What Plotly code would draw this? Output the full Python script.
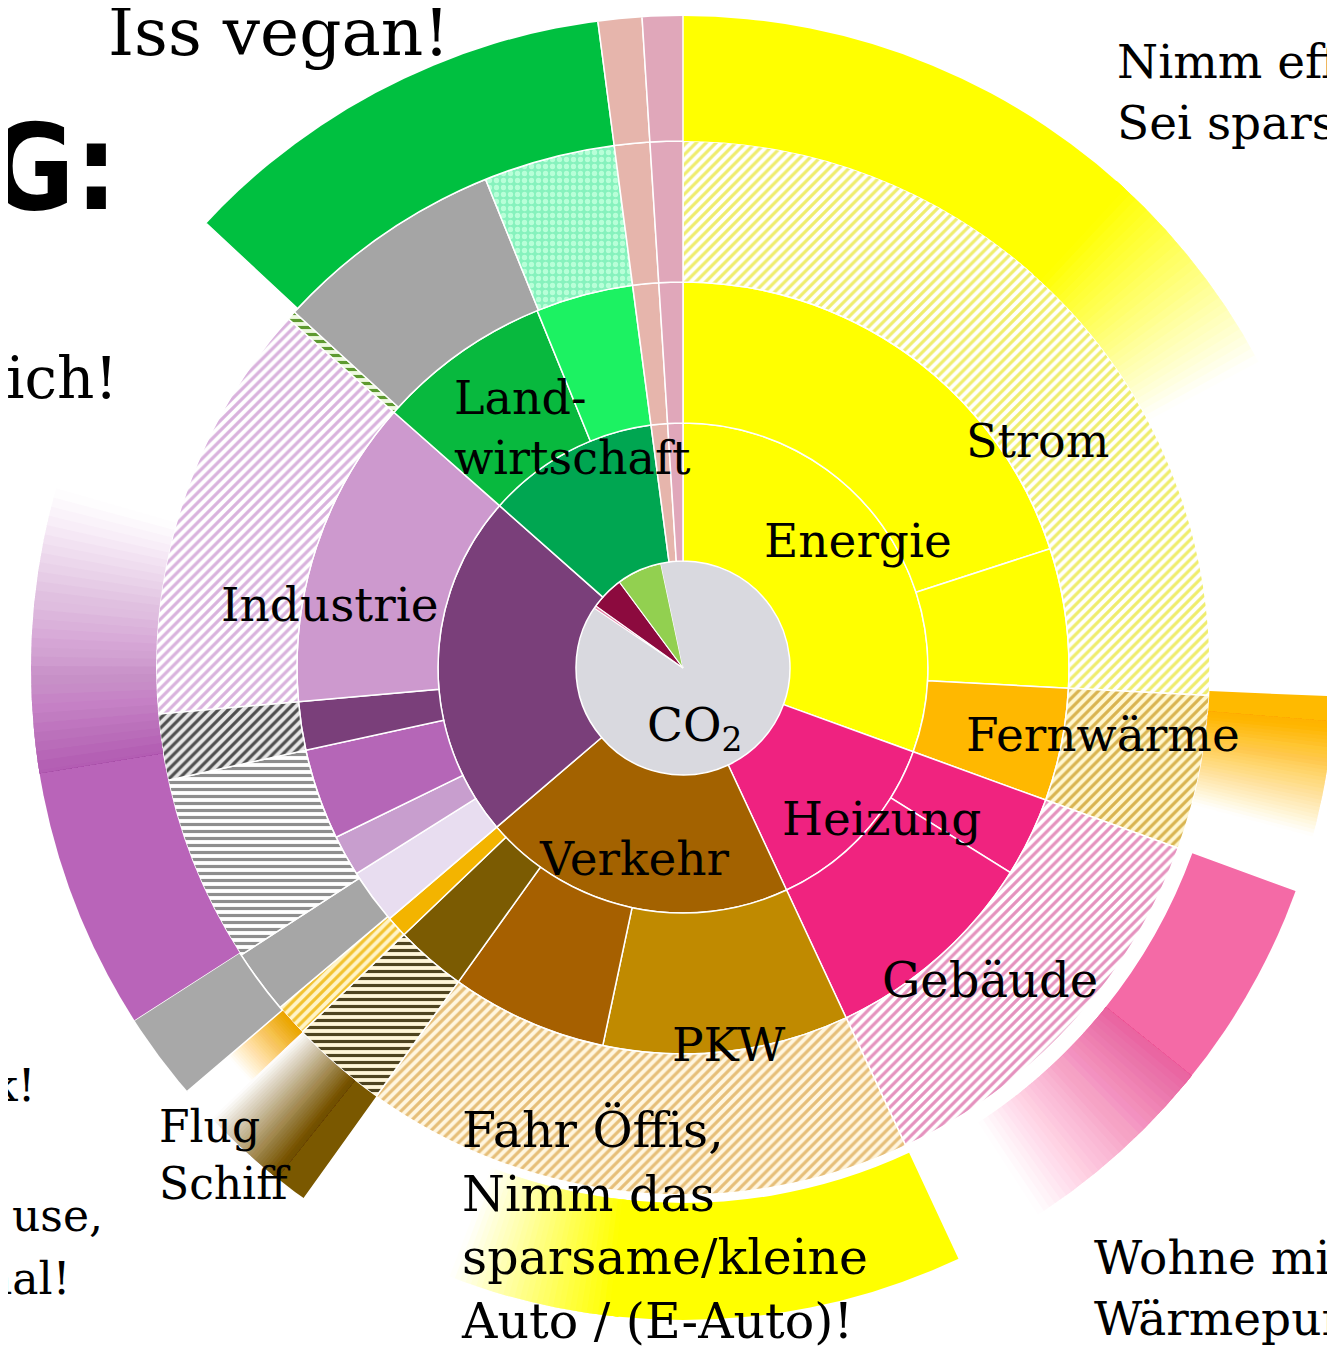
import plotly.graph_objects as go

# ---------------- data: angular share of every segment (degrees, clockwise from 12 o'clock) ----------------
gas_names = ["CO₂", "F-Gase", "Methan", "Lachgas", "CO₂"]
gas_span = [304.0, 1.5, 18.0, 24.5, 12.0]

sector_names = ["Energie", "Heizung", "Verkehr", "Industrie", "Landwirtschaft", "Abfall", "Sonstige"]
sector_span = [110, 45, 74.5, 82, 41, 3.9, 3.6]

source_names = ["Strom", "Strom Rest", "Fernwärme", "Heizung Gas", "Heizung Öl", "PKW", "Bus/Bahn/LKW",
                "Schiff", "Flug", "Industrie a", "Industrie b", "Industrie c", "Industrie d", "Industrie e",
                "Tierhaltung", "Boden", "Abfall", "Sonstige"]
source_span = [72, 21, 17, 12, 33, 37, 23.6, 10.7, 3.2, 8.3, 6.2, 13.7, 7.3, 46.5, 26.3, 14.7, 3.9, 3.6]

use_names = ["Strom", "Fernwärme", "Gebäude", "PKW", "Schiff", "Flug", "Industrie grau", "Industrie b",
             "Industrie d", "Industrie e", "Landwirtschaft Rand", "Futter", "Dünger", "Abfall", "Sonstige"]
use_span = [93, 17, 45, 60.6, 10.7, 3.6, 7.1, 20.7, 7.3, 46.5, 1.0, 25.5, 14.5, 3.9, 3.6]

tip_names = ["Strom", "", "Fernwärme", "", "Gebäude", "", "PKW", "", "Schiff", "Flug",
             "Industrie grau", "Konsum", "", "Ernährung", "Abfall", "Sonstige"]
tip_span = [62, 30.5, 12.5, 5, 37, 8, 46, 14.6, 10.7, 3.2, 7.8, 48.7, 27, 39.5, 3.9, 3.6]

# ---------------- styles ----------------
R0, R1, R2, R3, R4 = 107, 245, 386, 527, 670
W, H, OFF = 1327, 1338, 8
RADIUS = 652

gas_colors = ["#D9D9DF", "#E48AAE", "#8C0A3E", "#92D050", "#D9D9DF"]
sector_colors = ["#FFFF00", "#EF2280", "#A36200", "#7A3F7A", "#00A651", "#E6B5AC", "#E0A7BA"]
source_colors = ["#FFFF00", "#FFFF00", "#FFB800", "#F0237F", "#F0237F", "#C08A00", "#A66000",
                 "#7B5B02", "#F3B400", "#E8DDF0", "#C89ECE", "#B566B7", "#7A3F7A", "#CD99CE",
                 "#08B93E", "#1CF262", "#E6B5AC", "#E0A7BA"]
use_style = [
    ("#FFFFFF", "#EFED6E", "/"),
    ("#FFF7D0", "#D9B450", "/"),
    ("#FFFFFF", "#E592BE", "/"),
    ("#FFF6E0", "#E6BE78", "/"),
    ("#FFF6D8", "#4E4420", "-"),
    ("#FFF4C8", "#F2C230", "/"),
    ("#A6A6A6", None, ""),
    ("#FFFFFF", "#8E8E8E", "-"),
    ("#E6E6E6", "#4E4E4E", "/"),
    ("#FFFFFF", "#D9B2DD", "/"),
    ("#EEF9E0", "#5E9A30", "-"),
    ("#A5A5A5", None, ""),
    ("#86F2BD", "#B8FFD8", "."),
    ("#E6B5AC", None, ""),
    ("#E0A7BA", None, ""),
]
tip_colors = ["#FFFF00", None, "#FFBA00", None, "#F46AA6", None, "#FFFF00", None, "#7A5800", "#F5A800",
              "#A8A8A8", "#B964B9", None, "#00C040", "#E6B5AC", "#E0A7BA"]
tip_fade = [20, 0, 10, 0, 18, 0, 15, 0, 7.5, 0, 0, 25, 0, 0, 0, 0]
tip_inset = [0, 0, 0, 0, 15, 0, 8, 0, 0, 0, 0, 0, 0, 0, 0, 0]

fig = go.Figure()


def rgba(hexcol, a):
    h = hexcol.lstrip("#")
    return "rgba(%d,%d,%d,%.4f)" % (int(h[0:2], 16), int(h[2:4], 16), int(h[4:6], 16), a)


def seg(start, span, r0, r1, color=None, pattern=None, line=1.5, name=""):
    marker = dict(color=color if color else "rgba(0,0,0,0)",
                  line=dict(color="white", width=line))
    if pattern:
        marker["pattern"] = pattern
    fig.add_trace(go.Barpolar(theta=[start + span / 2], width=[span], base=[r0], r=[r1 - r0],
                              marker=marker, name=name, hoverinfo="skip", showlegend=False))


def starts(spans):
    out, acc = [], 0
    for s in spans:
        out.append(acc)
        acc += s
    return out


# nested translucent layers -> smooth fade without seams
STEPS = 30
fade_alpha = [1 / (j + 0.5) for j in range(1, STEPS)] + [0.5 / STEPS]

# center disc
for a, s, c, n in zip(starts(gas_span), gas_span, gas_colors, gas_names):
    seg(a, s, 0, R0, c, line=1.2 if c != "#D9D9DF" else 0, name=n)

# sectors
for a, s, c, n in zip(starts(sector_span), sector_span, sector_colors, sector_names):
    seg(a, s, R0, R1, c, name=n)

# sources
for a, s, c, n in zip(starts(source_span), source_span, source_colors, source_names):
    seg(a, s, R1, R2, c, name=n)

# uses (hatched)
for a, s, st, n in zip(starts(use_span), use_span, use_style, use_names):
    bg, fg, shape = st
    if shape:
        seg(a, s, R2, R3, bg, pattern=dict(shape=shape, fgcolor=fg, bgcolor=bg, size=7,
                                            solidity=0.45, fillmode="replace"), name=n)
    else:
        seg(a, s, R2, R3, bg, name=n)

# outer ring: tips, some fading out clockwise
for a, s, c, fd, ins, n in zip(starts(tip_span), tip_span, tip_colors, tip_fade, tip_inset, tip_names):
    if c is None:
        continue
    r0 = R3 + ins
    if n == "Flug":
        fr = (R4 - r0) * 0.5
        for j, al in enumerate(fade_alpha, start=1):
            seg(a, s, r0, r0 + fr * j / STEPS, rgba(c, al), line=0, name=n)
        continue
    solid = s - fd
    seg(a, solid, r0, R4, c, line=0 if fd else 1.5, name=n)
    if fd:
        b = a + solid - 0.3
        for j, al in enumerate(fade_alpha, start=1):
            seg(b, 0.3 + fd * j / STEPS, r0, R4, rgba(c, al), line=0, name=n)

cx, cy = 683 - OFF, 668 - OFF
fig.update_layout(
    width=W, height=H, margin=dict(l=0, r=0, t=0, b=0),
    paper_bgcolor="white", plot_bgcolor="white",
    polar=dict(
        domain=dict(x=[(cx - RADIUS) / W, (cx + RADIUS) / W],
                    y=[(H - cy - RADIUS) / H, (H - cy + RADIUS) / H]),
        bgcolor="rgba(0,0,0,0)",
        barmode="overlay",
        radialaxis=dict(visible=False, range=[0, RADIUS]),
        angularaxis=dict(visible=False, rotation=90, direction="clockwise"),
    ),
)


def label(text, px, py, size=47, anchor="left", family="DejaVu Serif", weight="normal"):
    fig.add_annotation(text=text, xref="paper", yref="paper",
                       x=(px - OFF) / W, y=1 - (py - OFF) / H,
                       xanchor=anchor, yanchor="middle", showarrow=False, align="left",
                       font=dict(family=family, size=size, color="black", weight=weight))


label("Iss vegan!", 106, 33, size=66)
label("ALLTAG:", 120, 167, size=120, anchor="right", weight="bold",
      family="Liberation Sans Narrow, DejaVu Sans Condensed, Roboto Condensed, Roboto")
label("ich!", 120, 378, size=58, anchor="right")
label("Land-<br>wirtschaft", 452, 428, size=46)
label("Strom", 964, 441, size=46)
label("Energie", 762, 540)
label("Industrie", 219, 604)
label("CO<sub>2</sub>", 645, 728)
label("Fernwärme", 964, 734)
label("Heizung", 780, 818)
label("Verkehr", 537, 858)
label("Gebäude", 880, 980, size=48)
label("PKW", 670, 1044)
label("Fahr Öffis,<br>Nimm das<br>sparsame/kleine<br>Auto / (E-Auto)!", 459, 1226, size=49)
label("Flug<br>Schiff", 157, 1155, size=44)
label("Nimm effiziente Geräte,<br>Sei sparsam!", 1115, 92)
label("Wohne mit<br>Wärmepumpe!", 1092, 1288)
label("k!", 37, 1085, size=44, anchor="right")
label("use,", 105, 1215, size=44, anchor="right")
label("nal!", 72, 1278, size=44, anchor="right")
label("Saniere", 1326, 983, size=44)
label("Isoliere", 1326, 1045, size=44)
label("Investiere", 1326, 1108, size=44)

fig.write_html("out.html")
